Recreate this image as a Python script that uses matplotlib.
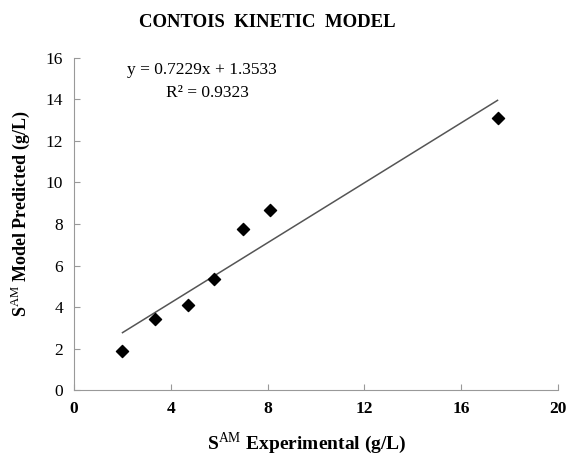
import numpy as np
import matplotlib
matplotlib.use('Agg')
import matplotlib.pyplot as plt

plt.rcParams['font.family'] = ['Liberation Serif', 'DejaVu Serif']
plt.rcParams['mathtext.fontset'] = 'custom'
plt.rcParams['mathtext.rm'] = 'Liberation Serif'
plt.rcParams['mathtext.bf'] = 'Liberation Serif:bold'

# Data
s_exp = [2.0, 3.35, 4.7, 5.8, 7.0, 8.1, 17.5]
s_pred = [1.88, 3.42, 4.08, 5.33, 7.75, 8.68, 13.1]
eq_text = 'y = 0.7229x + 1.3533'
r2_text = 'R² = 0.9323'
x_ticks = [0, 4, 8, 12, 16, 20]
y_ticks = [0, 2, 4, 6, 8, 10, 12, 14, 16]

fig = plt.figure(figsize=(5.7, 4.59), dpi=100)
ax = fig.add_axes([0.130, 0.150, 0.849, 0.724])

# Linear trendline
coef = np.polyfit(s_exp, s_pred, 1)
xl = np.array([min(s_exp), max(s_exp)])
ax.plot(xl, np.polyval(coef, xl), color='#555555', lw=1.1)
ax.scatter(s_exp, s_pred, marker='D', s=38, color='black', zorder=3)

ax.set_xlim(0, 20)
ax.set_ylim(0, 16)
ax.set_xticks(x_ticks)
ax.set_yticks(y_ticks)
ax.set_xticklabels([str(t) for t in x_ticks], fontweight='bold', fontsize=12.5)
ax.set_yticklabels([str(t) for t in y_ticks], fontsize=12.5)
ax.tick_params(direction='in', length=4, color='#999999', pad=8)

for s in ['top', 'right']:
    ax.spines[s].set_visible(False)
for s in ['left', 'bottom']:
    ax.spines[s].set_color('#999999')

ax.set_xlabel(r'S$^{\mathrm{AM}}$ Experimental (g/L)', fontweight='bold', fontsize=14)
ax.set_ylabel(r'S$^{\mathrm{AM}}$ Model Predicted (g/L)', fontweight='bold', fontsize=13)
ax.xaxis.set_label_coords(0.48, -0.122)
ax.yaxis.set_label_coords(-0.087, 0.53)
fig.text(267 / 570, 0.952, 'CONTOIS  KINETIC  MODEL', fontweight='bold',
         fontsize=13.5, ha='center', va='center')

ax.text(5.3, 15.4, eq_text, fontsize=12.5, ha='center', va='center')
ax.text(5.5, 14.3, r2_text, fontsize=12.5, ha='center', va='center')

fig.savefig('out.png', dpi=100)
